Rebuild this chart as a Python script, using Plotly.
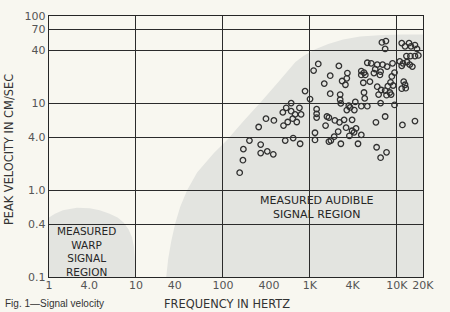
import plotly.graph_objects as go

# ---- measured points (frequency in Hz, peak velocity in cm/sec) ----
freq_hz = [172, 170, 156, 202, 272, 272, 324, 380, 258, 313, 386, 498, 557, 636, 707, 677, 793,
           610, 535, 759, 489, 1197, 1197, 1197, 1574, 1517, 1146, 1146, 1657, 643, 521, 773,
           1250, 1105, 1715, 1465, 881, 1715, 1005, 610,
           6745, 7500, 7348, 11400, 12440, 13830, 14560, 16180, 17060, 10814, 11800, 12910,
           14350, 16180, 17700, 11400, 13120, 14090, 15110, 2157, 4581, 5082, 5957, 6871, 7745,
           8933, 2704, 2661, 2351, 2566, 3908, 4198, 3908, 4345, 4121, 5649, 6516, 5457, 6397,
           4909, 8770, 9418, 12020, 12440, 11400, 12670, 8472, 7889, 9078, 7348, 8318, 7621,
           8610, 5957, 6622, 6180, 2233, 2233, 4198, 4276, 3335, 2805, 3250, 2661, 3908, 4581,
           6516, 9418, 2904, 1941, 2193, 2478, 3062, 1657, 2118, 2612, 3062, 3398, 3228, 2851,
           3908, 1905, 1746, 2274, 3581, 5754, 7348, 11610, 16180, 5861, 7621, 6516, 2270]
velocity_cm_s = [2.95, 2.2, 1.58, 3.7, 3.33, 2.66, 2.78, 2.57, 5.3, 6.6, 6.3, 5.5, 6.05, 6.6, 6.05, 7.4, 7.4,
                 8.05, 8.8, 8.8, 7.8, 8.5, 7.5, 6.8, 7.0, 5.5, 4.55, 3.76, 3.6, 3.95, 3.7, 3.4,
                 28.1, 23.6, 20.6, 16.7, 13.7, 12.8, 11.1, 9.97,
                 49.7, 51.5, 41.8, 48.8, 44.8, 48.8, 44.8, 46.3, 41.8, 30.1, 28.6, 34.6,
                 34.6, 34.6, 35.2, 26.7, 29.6, 27.6, 26.2, 26.7, 29.0, 28.6, 27.6, 27.6, 26.2,
                 28.6, 22.1, 19.2, 17.9, 16.2, 23.3, 22.4, 21.0, 21.0, 17.1, 24.5, 22.9, 22.1, 21.0,
                 17.6, 20.2, 22.4, 17.6, 16.2, 14.6, 14.8, 17.3, 15.6, 15.9, 13.9, 13.2, 12.3,
                 12.5, 15.4, 14.1, 12.5, 12.5, 10.9, 13.2, 11.3, 10.3, 9.3, 8.3, 8.3, 9.2, 9.2,
                 9.97, 9.5, 8.9, 6.3, 6.0, 6.4, 6.4, 6.8, 4.7, 5.2, 4.8, 5.1, 4.6, 4.2,
                 4.3, 4.1, 3.7, 3.4, 3.4, 6.0, 7.0, 5.6, 6.2, 3.1, 2.71, 2.35, 9.9]

# ---- shaded region outlines (data units) ----
audible_region_freq = [22.3, 23.5, 25.5, 28.3, 32.3, 38.8, 50.5, 78.9, 111, 174, 272, 437, 683, 843,
                       1156, 1626, 2415, 3776, 6918, 11720, 20000, 20000]
audible_region_vel = [0.1, 0.162, 0.259, 0.412, 0.641, 0.995, 1.585, 2.66, 3.73, 6.26, 10.2, 17.6, 29.6,
                      34.6, 41.5, 47.8, 53.7, 58.0, 60.4, 61.1, 61.1, 0.1]
warp_region_freq = [1, 1.17, 1.445, 2.09, 2.94, 3.83, 4.98, 6.15, 7.2, 8.2, 9.0, 9.49, 9.74, 9.87, 1]
warp_region_vel = [0.482, 0.534, 0.585, 0.624, 0.616, 0.585, 0.534, 0.482, 0.423, 0.353, 0.287,
                   0.221, 0.162, 0.1, 0.1]

# ---- axes ----
y_tick_vals = [0.1, 0.4, 1, 4, 10, 40, 70, 100]
y_tick_text = ["0.1", "0.4", "1.0", "4.0", "10", "40", "70", "100"]
x_grid_vals = [10, 100, 1000, 10000]
x_label_pos = [1, 2.9, 10, 28, 100, 340, 1000, 3100, 10000, 20000]
x_label_text = ["1", "4.0", "10", "40", "100", "400", "1K", "4K", "10K", "20K"]

audible_label_lines = ["MEASURED AUDIBLE", "SIGNAL REGION"]
warp_label_lines = ["MEASURED", "WARP", "SIGNAL", "REGION"]
caption_text = "Fig. 1—Signal velocity"

PAPER = "#f8f7f0"
SHADE = "#e3e4e0"
INK = "#262626"


def path_from(xs, ys):
    return "M " + " L ".join(f"{x},{y}" for x, y in zip(xs, ys)) + " Z"


fig = go.Figure()
fig.add_trace(go.Scatter(
    x=freq_hz, y=velocity_cm_s, mode="markers",
    marker=dict(symbol="circle-open", size=5.5, color="#303030", line=dict(width=1.3, color="#303030")),
    showlegend=False, hoverinfo="skip"))
# carrier trace for the label axis
fig.add_trace(go.Scatter(x=x_label_pos, y=[None] * len(x_label_pos), xaxis="x2", yaxis="y",
                         mode="markers", showlegend=False, hoverinfo="skip"))

shapes = [
    dict(type="path", xref="x", yref="y", path=path_from(audible_region_freq, audible_region_vel),
         fillcolor=SHADE, line=dict(width=0), layer="below"),
    dict(type="path", xref="x", yref="y", path=path_from(warp_region_freq, warp_region_vel),
         fillcolor=SHADE, line=dict(width=0), layer="below"),
]

annotations = [
    dict(text="<br>".join(audible_label_lines), xref="paper", yref="paper", x=0.717, y=0.265,
         showarrow=False, xanchor="center", yanchor="middle", align="center",
         font=dict(family="DejaVu Sans", size=11, color=INK)),
    dict(text="<br>".join(warp_label_lines), xref="paper", yref="paper", x=0.099, y=0.098,
         showarrow=False, xanchor="center", yanchor="middle", align="center",
         font=dict(family="DejaVu Sans", size=10.5, color=INK)),
    dict(text="PEAK VELOCITY IN CM/SEC", xref="paper", yref="paper", x=-0.107, y=0.49,
         textangle=-90, showarrow=False, xanchor="center", yanchor="middle",
         font=dict(family="DejaVu Sans", size=11.4, color="#333")),
    dict(text="FREQUENCY IN HERTZ", xref="paper", yref="paper", x=0.475, y=-0.102,
         showarrow=False, xanchor="center", yanchor="middle",
         font=dict(family="DejaVu Sans", size=11.4, color="#333")),
    dict(text=caption_text, xref="paper", yref="paper", x=-0.123, y=-0.1286,
         showarrow=False, xanchor="left", yanchor="bottom",
         font=dict(family="Liberation Sans", size=10, color="#333")),
]

fig.update_layout(
    width=450, height=312,
    margin=dict(l=49, r=27, t=10, b=35),
    paper_bgcolor=PAPER, plot_bgcolor=PAPER,
    shapes=shapes, annotations=annotations,
    xaxis=dict(type="log", range=[0, 4.3015], tickvals=x_grid_vals, showticklabels=False,
               showgrid=True, gridcolor="#2b2b2b", gridwidth=1, zeroline=False,
               showline=True, mirror=True, linecolor=INK, linewidth=1.4, ticks=""),
    xaxis2=dict(type="log", range=[0, 4.3015], overlaying="x", anchor="y", side="bottom",
                tickvals=x_label_pos, ticktext=x_label_text, showgrid=False, showline=False,
                zeroline=False, ticks="", tickfont=dict(family="DejaVu Sans", size=11, color="#555")),
    yaxis=dict(type="log", range=[-1, 2], tickvals=y_tick_vals, ticktext=y_tick_text,
               showgrid=True, gridcolor="#2b2b2b", gridwidth=1, zeroline=False,
               showline=True, mirror=True, linecolor=INK, linewidth=1.4, ticks="",
               tickfont=dict(family="DejaVu Sans", size=11, color="#555")),
)

fig.write_html("out.html")
